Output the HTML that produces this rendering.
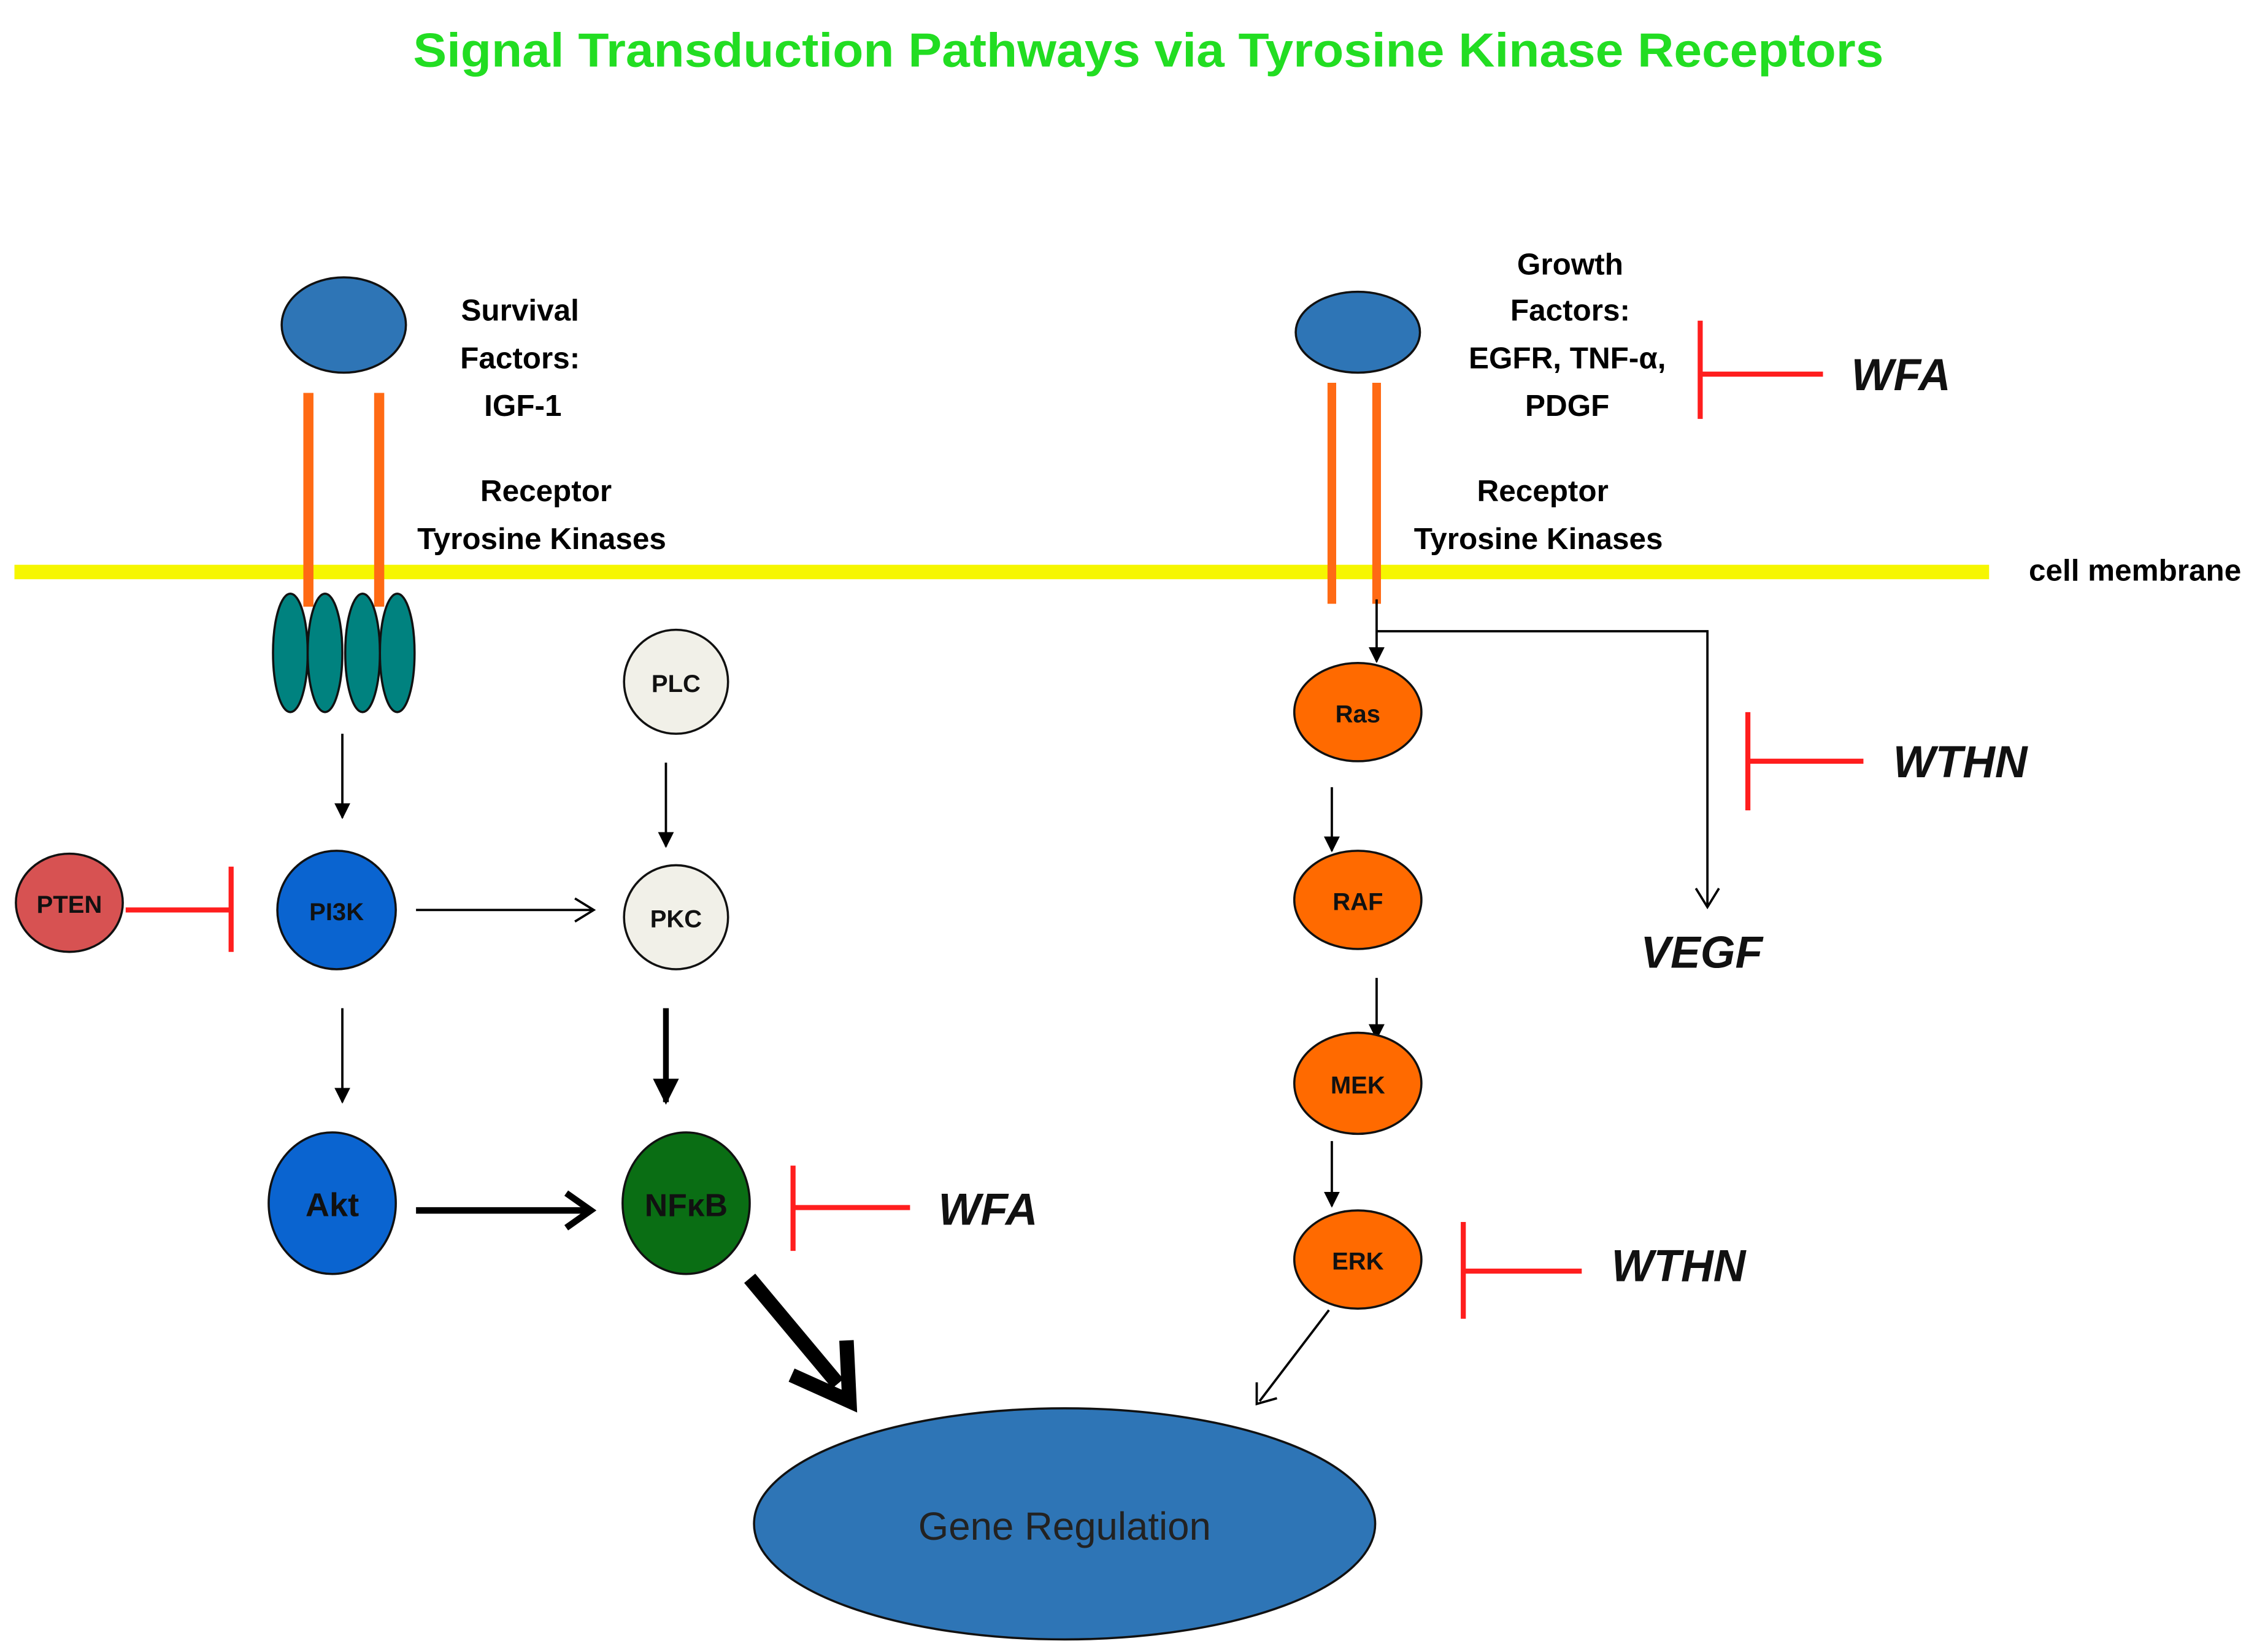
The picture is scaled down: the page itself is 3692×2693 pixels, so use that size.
<!DOCTYPE html>
<html><head><meta charset="utf-8"><style>html,body{margin:0;padding:0;background:#fff}svg{display:block}</style></head>
<body>
<svg width="3692" height="2693" viewBox="0 0 1568 1143.7" xmlns="http://www.w3.org/2000/svg" font-family="Liberation Sans, sans-serif">
<defs>
<marker id="a" viewBox="0 0 10 10" refX="9" refY="5" markerWidth="11" markerHeight="11" orient="auto" markerUnits="userSpaceOnUse"><path d="M0,0 L10,5 L0,10 z" fill="#000"/></marker>
<marker id="af" viewBox="0 0 10 10" refX="9" refY="5" markerWidth="18" markerHeight="18" orient="auto" markerUnits="userSpaceOnUse"><path d="M0,0 L10,5 L0,10 z" fill="#000"/></marker>
</defs>
<rect width="1568" height="1144" fill="#fff"/>
<text x="795" y="46" text-anchor="middle" font-size="33" font-weight="bold" fill="#22dd22" textLength="1018" lengthAdjust="spacingAndGlyphs">Signal Transduction Pathways via Tyrosine Kinase Receptors</text>

<rect x="10" y="391" width="1367" height="10" fill="#f6f600"/>
<text x="1478" y="402" text-anchor="middle" font-size="21" font-weight="bold">cell membrane</text>

<ellipse cx="238" cy="225" rx="43" ry="33" fill="#2e75b6" stroke="#111" stroke-width="1.5"/>
<rect x="210" y="272" width="7" height="148" fill="#ff6a14"/>
<rect x="259" y="272" width="7" height="148" fill="#ff6a14"/>
<g font-size="21" font-weight="bold" text-anchor="middle">
<text x="360" y="222">Survival</text><text x="360" y="255">Factors:</text><text x="362" y="288">IGF-1</text>
<text x="378" y="347">Receptor</text><text x="375" y="380">Tyrosine Kinases</text>
</g>
<g fill="#00827f" stroke="#111" stroke-width="1.5">
<ellipse cx="201" cy="452" rx="12" ry="41"/><ellipse cx="225" cy="452" rx="12" ry="41"/><ellipse cx="251" cy="452" rx="12" ry="41"/><ellipse cx="275" cy="452" rx="12" ry="41"/>
</g>

<g stroke="#000" stroke-width="1.6" fill="none">
<line x1="237" y1="508" x2="237" y2="566" marker-end="url(#a)"/>
<line x1="461" y1="528" x2="461" y2="586" marker-end="url(#a)"/>
<line x1="237" y1="698" x2="237" y2="763" marker-end="url(#a)"/>
<line x1="288" y1="630" x2="411" y2="630"/><path d="M398,622 L411,630 L398,638"/>
<line x1="920" y1="907" x2="872" y2="970"/><path d="M870,957 L870,972 L884,968"/>
</g>
<line x1="461" y1="698" x2="461" y2="763" stroke="#000" stroke-width="4" marker-end="url(#af)"/>
<line x1="288" y1="838" x2="408" y2="838" stroke="#000" stroke-width="4.5"/>
<path d="M392,826 L409,838 L392,850" stroke="#000" stroke-width="4.5" fill="none"/>
<line x1="519" y1="885" x2="580" y2="958" stroke="#000" stroke-width="10"/>
<path d="M548,952 L588,970 L586,928" stroke="#000" stroke-width="10" fill="none" stroke-linejoin="miter"/>

<circle cx="468" cy="472" r="36" fill="#f1f0e8" stroke="#111" stroke-width="1.5"/>
<circle cx="468" cy="635" r="36" fill="#f1f0e8" stroke="#111" stroke-width="1.5"/>
<ellipse cx="48" cy="625" rx="37" ry="34" fill="#d75252" stroke="#111" stroke-width="1.5"/>
<ellipse cx="233" cy="630" rx="41" ry="41" fill="#0a64d0" stroke="#111" stroke-width="1.5"/>
<ellipse cx="230" cy="833" rx="44" ry="49" fill="#0a64d0" stroke="#111" stroke-width="1.5"/>
<ellipse cx="475" cy="833" rx="44" ry="49" fill="#0a6e14" stroke="#111" stroke-width="1.5"/>
<g font-weight="bold" text-anchor="middle" fill="#111">
<text x="468" y="479" font-size="17">PLC</text>
<text x="468" y="642" font-size="17">PKC</text>
<text x="48" y="632" font-size="17">PTEN</text>
<text x="233" y="637" font-size="17">PI3K</text>
<text x="230" y="842" font-size="23">Akt</text>
<text x="475" y="842" font-size="22">NFκB</text>
</g>

<g stroke="#ff1e1e" stroke-width="3.5" fill="none">
<line x1="87" y1="630" x2="160" y2="630"/><line x1="160" y1="600" x2="160" y2="659"/>
<line x1="549" y1="836" x2="630" y2="836"/><line x1="549" y1="807" x2="549" y2="866"/>
<line x1="1177" y1="259" x2="1262" y2="259"/><line x1="1177" y1="222" x2="1177" y2="290"/>
<line x1="1210" y1="527" x2="1290" y2="527"/><line x1="1210" y1="493" x2="1210" y2="561"/>
<line x1="1013" y1="880" x2="1095" y2="880"/><line x1="1013" y1="846" x2="1013" y2="913"/>
</g>
<g font-size="31" font-weight="bold" font-style="italic" text-anchor="middle" fill="#111">
<text x="684" y="848">WFA</text>
<text x="1316" y="270">WFA</text>
<text x="1357" y="538">WTHN</text>
<text x="1162" y="887">WTHN</text>
<text x="1178" y="670">VEGF</text>
</g>

<ellipse cx="940" cy="230" rx="43" ry="28" fill="#2e75b6" stroke="#111" stroke-width="1.5"/>
<rect x="919" y="265" width="6" height="153" fill="#ff6a14"/>
<rect x="950" y="265" width="6" height="153" fill="#ff6a14"/>
<g font-size="21" font-weight="bold" text-anchor="middle">
<text x="1087" y="190">Growth</text><text x="1087" y="222">Factors:</text><text x="1085" y="255">EGFR, TNF-α,</text><text x="1085" y="288">PDGF</text>
<text x="1068" y="347">Receptor</text><text x="1065" y="380">Tyrosine Kinases</text>
</g>
<g stroke="#000" stroke-width="1.6" fill="none">
<line x1="953" y1="415" x2="953" y2="458" marker-end="url(#a)"/>
<polyline points="953,437 1182,437 1182,628"/><path d="M1174,615 L1182,628 L1190,615"/>
<line x1="922" y1="545" x2="922" y2="589" marker-end="url(#a)"/>
<line x1="953" y1="677" x2="953" y2="719" marker-end="url(#a)"/>
<line x1="922" y1="790" x2="922" y2="835" marker-end="url(#a)"/>
</g>
<g fill="#ff6a00" stroke="#111" stroke-width="1.5">
<ellipse cx="940" cy="493" rx="44" ry="34"/><ellipse cx="940" cy="623" rx="44" ry="34"/><ellipse cx="940" cy="750" rx="44" ry="35"/><ellipse cx="940" cy="872" rx="44" ry="34"/>
</g>
<g font-weight="bold" text-anchor="middle" fill="#111" font-size="17">
<text x="940" y="500">Ras</text><text x="940" y="630">RAF</text><text x="940" y="757">MEK</text><text x="940" y="879">ERK</text>
</g>

<ellipse cx="737" cy="1055" rx="215" ry="80" fill="#2e75b6" stroke="#111" stroke-width="1.5"/>
<text x="737" y="1066" text-anchor="middle" font-size="27" fill="#222">Gene Regulation</text>
</svg>
</body></html>
